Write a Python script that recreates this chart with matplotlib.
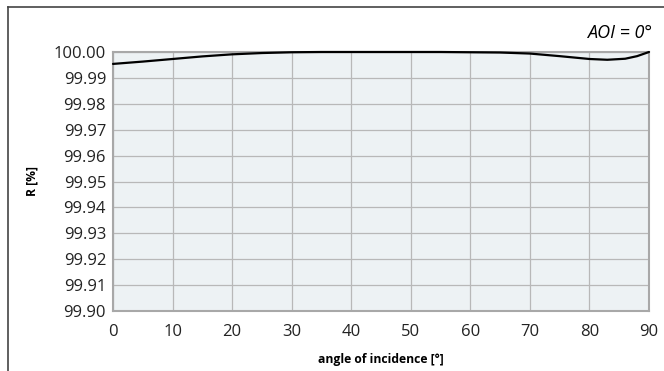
import matplotlib
matplotlib.use("Agg")
import matplotlib.pyplot as plt
from matplotlib.lines import Line2D

angles = [0, 5, 10, 15, 20, 25, 30, 35, 40, 45, 50, 55, 60, 65, 70, 75, 80, 83, 86, 88, 90]
reflectance = [99.9954, 99.9963, 99.9973, 99.9983, 99.9991, 99.9996, 99.9999, 100.0, 100.0, 100.0,
               100.0, 100.0, 99.9999, 99.9998, 99.9994, 99.9984, 99.9973, 99.9970, 99.9974, 99.9984, 100.0]
xticks = [0, 10, 20, 30, 40, 50, 60, 70, 80, 90]
yticks = [99.90, 99.91, 99.92, 99.93, 99.94, 99.95, 99.96, 99.97, 99.98, 99.99, 100.00]

plt.rcParams['font.family'] = ['Open Sans', 'DejaVu Sans']

fig = plt.figure(figsize=(6.64, 3.71), dpi=100)
ax = fig.add_axes([113/664, 1-311/371, (649-113)/664, (311-52)/371])
ax.set_facecolor('#edf2f4')
ax.plot(angles, reflectance, color='black', lw=1.6, solid_capstyle='round', clip_on=False, zorder=3)
ax.set_xlim(0, 90)
ax.set_ylim(99.90, 100.00)
ax.set_xticks(xticks)
ax.set_yticks(yticks)
ax.set_yticklabels([f"{v:.2f}" for v in yticks])
ax.grid(True, color='#b8b8b8', lw=0.9)
ax.set_axisbelow(True)
for s in ax.spines.values():
    s.set_color('#a8a8a8')
    s.set_linewidth(1.5)
ax.tick_params(length=0, labelsize=12, pad=5, colors='#222222')
ax.tick_params(axis='x', pad=9)
ax.set_xlabel('angle of incidence [°]', fontsize=8.7, fontweight='bold', labelpad=10)
ax.set_ylabel('R [%]', fontsize=8.7, fontweight='bold', labelpad=11)
fig.text(652/664, 1-33/371, 'AOI = 0°', ha='right', va='center', fontsize=13, style='italic')

fig.add_artist(Line2D([8/664, 1.0], [1-7/371, 1-7/371], color='#444444', lw=1.2, transform=fig.transFigure))
fig.add_artist(Line2D([8/664, 8/664], [0, 1-7/371], color='#444444', lw=1.2, transform=fig.transFigure))

fig.savefig('out.png', dpi=100)
